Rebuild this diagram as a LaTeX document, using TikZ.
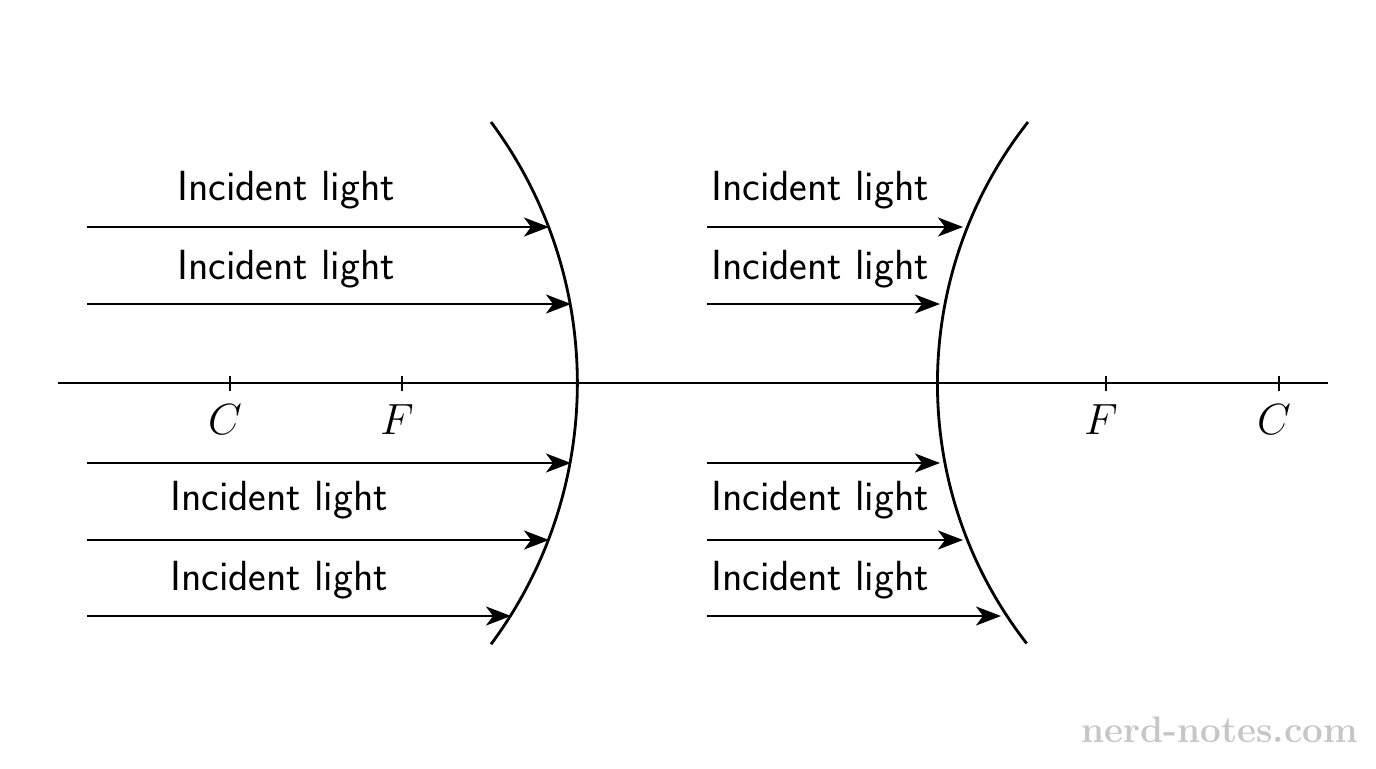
\documentclass[tikz,border=0pt]{standalone}
\usepackage{tikz}
\usetikzlibrary{arrows.meta}
\tikzset{
    x=0.02cm, y=-0.02cm, % one unit is one pixel of the sketch
    ray/.style={line width=1.6pt, -{Stealth[length=0.5cm, width=0.38cm, inset=0.14cm]}}, % incident rays
    mirror/.style={line width=1.6pt}, % the two mirrors
    lbl/.style={font=\sffamily\fontsize{24}{28}\selectfont}, % ray labels
    pt/.style={font=\fontsize{27}{30}\selectfont, below}, % C and F
}
\begin{document}
\begin{tikzpicture}
    \useasboundingbox (0,0) rectangle (1376,768);
    % principal axis
    \coordinate (axl) at (58,383);
    \coordinate (axr) at (1328,383);
    \draw[mirror] (axl) -- (axr);
    % concave mirror (left) and convex mirror (right)
    \draw[mirror] (491,122) arc[start angle=-36.6, end angle=36.6, radius=438];
    \draw[mirror] (1028,122) arc[start angle=-141.8, end angle=-217.9, radius=423];
    % ticks
    \foreach \x/\t [count=\i] in {230/C, 402/F, 1106/F, 1279/C} {
        \coordinate (tk\i) at (\x,383);
        \draw[mirror] ([yshift=-0.15cm]tk\i) -- ([yshift=0.15cm]tk\i);
        \node[pt] at ([yshift=-0.3cm,xshift=-0.1cm]tk\i) {$\t$};
    }
    % rays on the left
    \foreach \y/\e [count=\i] in {227/549, 304/571, 463/571, 540/549, 616/511} {
        \coordinate (ls\i) at (87,\y);
        \coordinate (le\i) at (\e,\y);
        \draw[ray] (ls\i) -- (le\i);
    }
    % rays on the right
    \foreach \y/\e [count=\i] in {227/963, 304/940, 463/940, 540/963, 616/1001} {
        \coordinate (rs\i) at (707,\y);
        \coordinate (re\i) at (\e,\y);
        \draw[ray] (rs\i) -- (re\i);
    }
    % labels
    \node[lbl] (l1) at (286,190) {Incident light};
    \node[lbl] (l2) at (286,269) {Incident light};
    \node[lbl] (l3) at (279,500) {Incident light};
    \node[lbl] (l4) at (279,580) {Incident light};
    \node[lbl] (r1) at (820,190) {Incident light};
    \node[lbl] (r2) at (820,269) {Incident light};
    \node[lbl] (r3) at (820,500) {Incident light};
    \node[lbl] (r4) at (820,580) {Incident light};
    \node[text=gray!45, font=\bfseries\fontsize{21}{24}\selectfont] (wm) at (1220,730) {nerd-notes.com};
\end{tikzpicture}
\end{document}
